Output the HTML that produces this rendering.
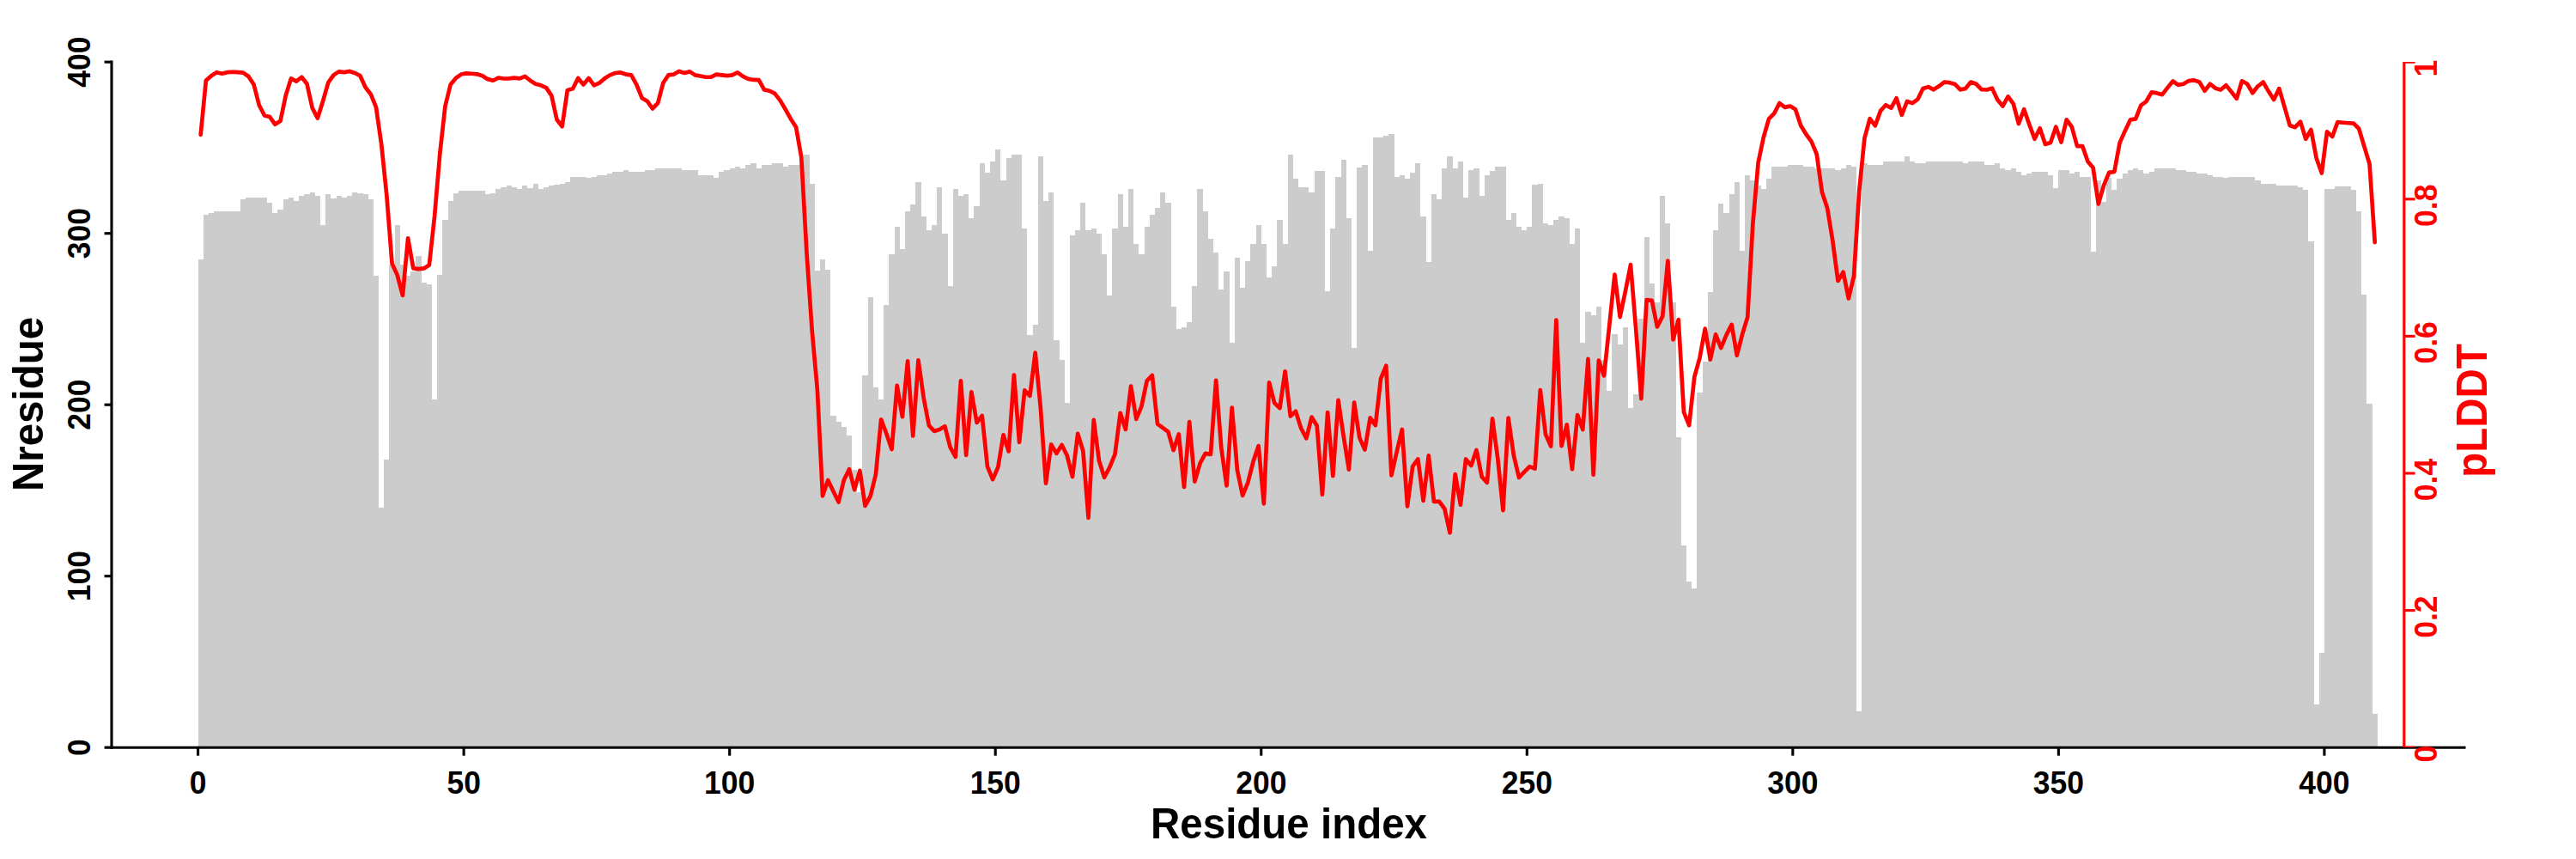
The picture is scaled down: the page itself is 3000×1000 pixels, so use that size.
<!DOCTYPE html>
<html><head><meta charset="utf-8"><title>Residue plot</title>
<style>html,body{margin:0;padding:0;background:#fff;overflow:hidden}body{width:3000px;height:1000px}</style></head>
<body>
<svg width="3000" height="1000" viewBox="0 0 3000 1000" style="display:block;font-family:'Liberation Sans',Arial,Helvetica,sans-serif;font-weight:bold">
<rect width="3000" height="1000" fill="#ffffff"/>
<path d="M230.60,870.20 L230.60,302.02 L236.79,302.02 L236.79,249.95 L242.98,249.95 L242.98,248.16 L249.17,248.16 L249.17,245.76 L255.36,245.76 L255.36,245.76 L261.55,245.76 L261.55,245.76 L267.74,245.76 L267.74,245.76 L273.94,245.76 L273.94,245.76 L280.13,245.76 L280.13,231.80 L286.32,231.80 L286.32,229.81 L292.51,229.81 L292.51,229.81 L298.70,229.81 L298.70,229.81 L304.89,229.81 L304.89,229.81 L311.08,229.81 L311.08,235.79 L317.27,235.79 L317.27,247.56 L323.46,247.56 L323.46,243.77 L329.65,243.77 L329.65,231.80 L335.84,231.80 L335.84,229.81 L342.03,229.81 L342.03,233.60 L348.23,233.60 L348.23,228.01 L354.42,228.01 L354.42,226.01 L360.61,226.01 L360.61,223.82 L366.80,223.82 L366.80,227.61 L372.99,227.61 L372.99,261.92 L379.18,261.92 L379.18,225.82 L385.37,225.82 L385.37,231.40 L391.56,231.40 L391.56,228.01 L397.75,228.01 L397.75,230.20 L403.94,230.20 L403.94,228.01 L410.13,228.01 L410.13,223.82 L416.32,223.82 L416.32,225.42 L422.51,225.42 L422.51,225.82 L428.71,225.82 L428.71,231.80 L434.90,231.80 L434.90,321.18 L441.09,321.18 L441.09,591.10 L447.28,591.10 L447.28,535.24 L453.47,535.24 L453.47,308.01 L459.66,308.01 L459.66,261.73 L465.85,261.73 L465.85,307.61 L472.04,307.61 L472.04,320.98 L478.23,320.98 L478.23,315.79 L484.42,315.79 L484.42,297.63 L490.61,297.63 L490.61,329.16 L496.80,329.16 L496.80,331.15 L503.00,331.15 L503.00,464.82 L509.19,464.82 L509.19,320.38 L515.38,320.38 L515.38,255.74 L521.57,255.74 L521.57,233.79 L527.76,233.79 L527.76,225.22 L533.95,225.22 L533.95,222.02 L540.14,222.02 L540.14,222.02 L546.33,222.02 L546.33,222.02 L552.52,222.02 L552.52,222.02 L558.71,222.02 L558.71,222.02 L564.90,222.02 L564.90,225.82 L571.09,225.82 L571.09,225.22 L577.28,225.22 L577.28,219.63 L583.48,219.63 L583.48,217.84 L589.67,217.84 L589.67,215.84 L595.86,215.84 L595.86,217.84 L602.05,217.84 L602.05,219.63 L608.24,219.63 L608.24,215.84 L614.43,215.84 L614.43,219.03 L620.62,219.03 L620.62,214.04 L626.81,214.04 L626.81,219.63 L633.00,219.63 L633.00,217.84 L639.19,217.84 L639.19,215.84 L645.38,215.84 L645.38,215.44 L651.57,215.44 L651.57,213.85 L657.77,213.85 L657.77,212.25 L663.96,212.25 L663.96,205.67 L670.15,205.67 L670.15,205.87 L676.34,205.87 L676.34,205.67 L682.53,205.67 L682.53,207.46 L688.72,207.46 L688.72,205.67 L694.91,205.67 L694.91,204.27 L701.10,204.27 L701.10,204.27 L707.29,204.27 L707.29,201.88 L713.48,201.88 L713.48,200.08 L719.67,200.08 L719.67,200.08 L725.86,200.08 L725.86,198.28 L732.05,198.28 L732.05,200.08 L738.25,200.08 L738.25,200.08 L744.44,200.08 L744.44,200.08 L750.63,200.08 L750.63,198.28 L756.82,198.28 L756.82,198.28 L763.01,198.28 L763.01,195.89 L769.20,195.89 L769.20,195.89 L775.39,195.89 L775.39,195.89 L781.58,195.89 L781.58,195.89 L787.77,195.89 L787.77,195.89 L793.96,195.89 L793.96,197.69 L800.15,197.69 L800.15,197.69 L806.34,197.69 L806.34,197.69 L812.54,197.69 L812.54,204.27 L818.73,204.27 L818.73,204.27 L824.92,204.27 L824.92,204.27 L831.11,204.27 L831.11,207.46 L837.30,207.46 L837.30,200.08 L843.49,200.08 L843.49,198.28 L849.68,198.28 L849.68,195.89 L855.87,195.89 L855.87,194.09 L862.06,194.09 L862.06,195.89 L868.25,195.89 L868.25,191.70 L874.44,191.70 L874.44,189.90 L880.63,189.90 L880.63,195.89 L886.82,195.89 L886.82,191.70 L893.02,191.70 L893.02,191.70 L899.21,191.70 L899.21,189.90 L905.40,189.90 L905.40,189.90 L911.59,189.90 L911.59,193.70 L917.78,193.70 L917.78,191.50 L923.97,191.50 L923.97,191.50 L930.16,191.50 L930.16,191.50 L936.35,191.50 L936.35,179.93 L942.54,179.93 L942.54,214.04 L948.73,214.04 L948.73,315.19 L954.92,315.19 L954.92,301.62 L961.11,301.62 L961.11,313.60 L967.31,313.60 L967.31,483.77 L973.50,483.77 L973.50,490.75 L979.69,490.75 L979.69,497.33 L985.88,497.33 L985.88,507.11 L992.07,507.11 L992.07,547.21 L998.26,547.21 L998.26,572.75 L1004.45,572.75 L1004.45,437.29 L1010.64,437.29 L1010.64,345.51 L1016.83,345.51 L1016.83,451.25 L1023.02,451.25 L1023.02,465.02 L1029.21,465.02 L1029.21,355.49 L1035.40,355.49 L1035.40,295.64 L1041.59,295.64 L1041.59,263.52 L1047.79,263.52 L1047.79,289.65 L1053.98,289.65 L1053.98,245.76 L1060.17,245.76 L1060.17,237.78 L1066.36,237.78 L1066.36,211.65 L1072.55,211.65 L1072.55,251.75 L1078.74,251.75 L1078.74,267.91 L1084.93,267.91 L1084.93,261.73 L1091.12,261.73 L1091.12,217.64 L1097.31,217.64 L1097.31,271.70 L1103.50,271.70 L1103.50,333.35 L1109.69,333.35 L1109.69,219.83 L1115.88,219.83 L1115.88,227.61 L1122.08,227.61 L1122.08,225.62 L1128.27,225.62 L1128.27,253.55 L1134.46,253.55 L1134.46,239.58 L1140.65,239.58 L1140.65,189.71 L1146.84,189.71 L1146.84,201.48 L1153.03,201.48 L1153.03,187.91 L1159.22,187.91 L1159.22,173.95 L1165.41,173.95 L1165.41,209.86 L1171.60,209.86 L1171.60,183.72 L1177.79,183.72 L1177.79,179.93 L1183.98,179.93 L1183.98,179.93 L1190.17,179.93 L1190.17,265.72 L1196.36,265.72 L1196.36,389.60 L1202.56,389.60 L1202.56,377.63 L1208.75,377.63 L1208.75,181.92 L1214.94,181.92 L1214.94,233.99 L1221.13,233.99 L1221.13,223.82 L1227.32,223.82 L1227.32,395.59 L1233.51,395.59 L1233.51,419.33 L1239.70,419.33 L1239.70,468.81 L1245.89,468.81 L1245.89,273.50 L1252.08,273.50 L1252.08,267.51 L1258.27,267.51 L1258.27,235.79 L1264.46,235.79 L1264.46,267.51 L1270.65,267.51 L1270.65,265.72 L1276.85,265.72 L1276.85,271.70 L1283.04,271.70 L1283.04,295.64 L1289.23,295.64 L1289.23,343.52 L1295.42,343.52 L1295.42,265.72 L1301.61,265.72 L1301.61,225.62 L1307.80,225.62 L1307.80,263.52 L1313.99,263.52 L1313.99,219.83 L1320.18,219.83 L1320.18,283.67 L1326.37,283.67 L1326.37,295.64 L1332.56,295.64 L1332.56,263.52 L1338.75,263.52 L1338.75,249.75 L1344.94,249.75 L1344.94,241.77 L1351.13,241.77 L1351.13,223.82 L1357.33,223.82 L1357.33,235.79 L1363.52,235.79 L1363.52,357.49 L1369.71,357.49 L1369.71,383.22 L1375.90,383.22 L1375.90,381.43 L1382.09,381.43 L1382.09,375.44 L1388.28,375.44 L1388.28,333.35 L1394.47,333.35 L1394.47,219.83 L1400.66,219.83 L1400.66,245.76 L1406.85,245.76 L1406.85,277.88 L1413.04,277.88 L1413.04,293.64 L1419.23,293.64 L1419.23,336.94 L1425.42,336.94 L1425.42,315.99 L1431.62,315.99 L1431.62,398.98 L1437.81,398.98 L1437.81,299.63 L1444.00,299.63 L1444.00,335.14 L1450.19,335.14 L1450.19,303.62 L1456.38,303.62 L1456.38,283.67 L1462.57,283.67 L1462.57,261.73 L1468.76,261.73 L1468.76,283.67 L1474.95,283.67 L1474.95,322.97 L1481.14,322.97 L1481.14,309.61 L1487.33,309.61 L1487.33,255.94 L1493.52,255.94 L1493.52,283.67 L1499.71,283.67 L1499.71,179.53 L1505.90,179.53 L1505.90,207.66 L1512.10,207.66 L1512.10,217.64 L1518.29,217.64 L1518.29,217.64 L1524.48,217.64 L1524.48,223.82 L1530.67,223.82 L1530.67,199.48 L1536.86,199.48 L1536.86,199.48 L1543.05,199.48 L1543.05,338.93 L1549.24,338.93 L1549.24,265.72 L1555.43,265.72 L1555.43,205.67 L1561.62,205.67 L1561.62,185.52 L1567.81,185.52 L1567.81,253.55 L1574.00,253.55 L1574.00,404.57 L1580.19,404.57 L1580.19,195.49 L1586.39,195.49 L1586.39,191.50 L1592.58,191.50 L1592.58,291.85 L1598.77,291.85 L1598.77,159.58 L1604.96,159.58 L1604.96,159.58 L1611.15,159.58 L1611.15,157.59 L1617.34,157.59 L1617.34,155.79 L1623.53,155.79 L1623.53,205.67 L1629.72,205.67 L1629.72,203.87 L1635.91,203.87 L1635.91,207.66 L1642.10,207.66 L1642.10,201.48 L1648.29,201.48 L1648.29,189.71 L1654.48,189.71 L1654.48,251.75 L1660.67,251.75 L1660.67,305.42 L1666.87,305.42 L1666.87,225.62 L1673.06,225.62 L1673.06,231.60 L1679.25,231.60 L1679.25,195.89 L1685.44,195.89 L1685.44,181.92 L1691.63,181.92 L1691.63,195.89 L1697.82,195.89 L1697.82,187.91 L1704.01,187.91 L1704.01,229.81 L1710.20,229.81 L1710.20,197.69 L1716.39,197.69 L1716.39,195.89 L1722.58,195.89 L1722.58,227.61 L1728.77,227.61 L1728.77,203.67 L1734.96,203.67 L1734.96,199.48 L1741.16,199.48 L1741.16,193.70 L1747.35,193.70 L1747.35,193.70 L1753.54,193.70 L1753.54,255.54 L1759.73,255.54 L1759.73,247.56 L1765.92,247.56 L1765.92,263.52 L1772.11,263.52 L1772.11,267.51 L1778.30,267.51 L1778.30,263.52 L1784.49,263.52 L1784.49,215.44 L1790.68,215.44 L1790.68,213.65 L1796.87,213.65 L1796.87,259.73 L1803.06,259.73 L1803.06,261.73 L1809.25,261.73 L1809.25,255.54 L1815.44,255.54 L1815.44,251.75 L1821.64,251.75 L1821.64,253.55 L1827.83,253.55 L1827.83,283.67 L1834.02,283.67 L1834.02,265.72 L1840.21,265.72 L1840.21,399.38 L1846.40,399.38 L1846.40,363.47 L1852.59,363.47 L1852.59,367.46 L1858.78,367.46 L1858.78,357.49 L1864.97,357.49 L1864.97,419.33 L1871.16,419.33 L1871.16,454.64 L1877.35,454.64 L1877.35,389.41 L1883.54,389.41 L1883.54,400.98 L1889.73,400.98 L1889.73,381.43 L1895.93,381.43 L1895.93,475.19 L1902.12,475.19 L1902.12,459.43 L1908.31,459.43 L1908.31,371.45 L1914.50,371.45 L1914.50,275.69 L1920.69,275.69 L1920.69,329.56 L1926.88,329.56 L1926.88,351.50 L1933.07,351.50 L1933.07,227.61 L1939.26,227.61 L1939.26,259.53 L1945.45,259.53 L1945.45,351.50 L1951.64,351.50 L1951.64,508.71 L1957.83,508.71 L1957.83,635.19 L1964.02,635.19 L1964.02,677.08 L1970.21,677.08 L1970.21,684.67 L1976.41,684.67 L1976.41,457.04 L1982.60,457.04 L1982.60,421.33 L1988.79,421.33 L1988.79,339.53 L1994.98,339.53 L1994.98,267.51 L2001.17,267.51 L2001.17,237.39 L2007.36,237.39 L2007.36,247.56 L2013.55,247.56 L2013.55,225.62 L2019.74,225.62 L2019.74,211.65 L2025.93,211.65 L2025.93,291.65 L2032.12,291.65 L2032.12,203.67 L2038.31,203.67 L2038.31,210.05 L2044.50,210.05 L2044.50,216.04 L2050.70,216.04 L2050.70,219.63 L2056.89,219.63 L2056.89,208.06 L2063.08,208.06 L2063.08,194.09 L2069.27,194.09 L2069.27,194.09 L2075.46,194.09 L2075.46,194.09 L2081.65,194.09 L2081.65,192.10 L2087.84,192.10 L2087.84,192.10 L2094.03,192.10 L2094.03,192.10 L2100.22,192.10 L2100.22,194.09 L2106.41,194.09 L2106.41,194.09 L2112.60,194.09 L2112.60,195.89 L2118.79,195.89 L2118.79,195.89 L2124.98,195.89 L2124.98,195.89 L2131.18,195.89 L2131.18,195.89 L2137.37,195.89 L2137.37,197.69 L2143.56,197.69 L2143.56,195.89 L2149.75,195.89 L2149.75,192.10 L2155.94,192.10 L2155.94,194.09 L2162.13,194.09 L2162.13,827.71 L2168.32,827.71 L2168.32,190.10 L2174.51,190.10 L2174.51,191.70 L2180.70,191.70 L2180.70,191.70 L2186.89,191.70 L2186.89,191.70 L2193.08,191.70 L2193.08,187.91 L2199.27,187.91 L2199.27,187.91 L2205.47,187.91 L2205.47,187.91 L2211.66,187.91 L2211.66,187.91 L2217.85,187.91 L2217.85,181.92 L2224.04,181.92 L2224.04,187.91 L2230.23,187.91 L2230.23,189.90 L2236.42,189.90 L2236.42,189.90 L2242.61,189.90 L2242.61,187.91 L2248.80,187.91 L2248.80,187.91 L2254.99,187.91 L2254.99,187.91 L2261.18,187.91 L2261.18,187.91 L2267.37,187.91 L2267.37,187.91 L2273.56,187.91 L2273.56,187.91 L2279.75,187.91 L2279.75,187.91 L2285.95,187.91 L2285.95,189.90 L2292.14,189.90 L2292.14,187.91 L2298.33,187.91 L2298.33,187.91 L2304.52,187.91 L2304.52,187.91 L2310.71,187.91 L2310.71,191.70 L2316.90,191.70 L2316.90,191.70 L2323.09,191.70 L2323.09,189.90 L2329.28,189.90 L2329.28,195.89 L2335.47,195.89 L2335.47,197.69 L2341.66,197.69 L2341.66,195.89 L2347.85,195.89 L2347.85,199.68 L2354.04,199.68 L2354.04,203.87 L2360.24,203.87 L2360.24,201.88 L2366.43,201.88 L2366.43,199.68 L2372.62,199.68 L2372.62,199.68 L2378.81,199.68 L2378.81,199.68 L2385.00,199.68 L2385.00,203.87 L2391.19,203.87 L2391.19,219.43 L2397.38,219.43 L2397.38,197.69 L2403.57,197.69 L2403.57,197.69 L2409.76,197.69 L2409.76,201.88 L2415.95,201.88 L2415.95,199.68 L2422.14,199.68 L2422.14,205.67 L2428.33,205.67 L2428.33,205.67 L2434.52,205.67 L2434.52,293.25 L2440.72,293.25 L2440.72,210.05 L2446.91,210.05 L2446.91,235.19 L2453.10,235.19 L2453.10,207.46 L2459.29,207.46 L2459.29,221.23 L2465.48,221.23 L2465.48,208.06 L2471.67,208.06 L2471.67,201.88 L2477.86,201.88 L2477.86,197.69 L2484.05,197.69 L2484.05,195.89 L2490.24,195.89 L2490.24,197.69 L2496.43,197.69 L2496.43,201.88 L2502.62,201.88 L2502.62,199.68 L2508.81,199.68 L2508.81,195.89 L2515.01,195.89 L2515.01,195.89 L2521.20,195.89 L2521.20,195.89 L2527.39,195.89 L2527.39,195.89 L2533.58,195.89 L2533.58,197.69 L2539.77,197.69 L2539.77,197.69 L2545.96,197.69 L2545.96,199.68 L2552.15,199.68 L2552.15,199.68 L2558.34,199.68 L2558.34,201.88 L2564.53,201.88 L2564.53,201.88 L2570.72,201.88 L2570.72,203.87 L2576.91,203.87 L2576.91,205.67 L2583.10,205.67 L2583.10,205.67 L2589.29,205.67 L2589.29,207.46 L2595.49,207.46 L2595.49,205.67 L2601.68,205.67 L2601.68,205.67 L2607.87,205.67 L2607.87,205.67 L2614.06,205.67 L2614.06,205.67 L2620.25,205.67 L2620.25,205.67 L2626.44,205.67 L2626.44,210.05 L2632.63,210.05 L2632.63,214.04 L2638.82,214.04 L2638.82,214.04 L2645.01,214.04 L2645.01,214.04 L2651.20,214.04 L2651.20,215.64 L2657.39,215.64 L2657.39,215.84 L2663.58,215.84 L2663.58,215.84 L2669.78,215.84 L2669.78,215.84 L2675.97,215.84 L2675.97,217.84 L2682.16,217.84 L2682.16,221.43 L2688.35,221.43 L2688.35,281.28 L2694.54,281.28 L2694.54,820.33 L2700.73,820.33 L2700.73,760.48 L2706.92,760.48 L2706.92,219.63 L2713.11,219.63 L2713.11,219.63 L2719.30,219.63 L2719.30,217.44 L2725.49,217.44 L2725.49,217.44 L2731.68,217.44 L2731.68,217.44 L2737.87,217.44 L2737.87,221.43 L2744.06,221.43 L2744.06,245.76 L2750.26,245.76 L2750.26,343.12 L2756.45,343.12 L2756.45,469.60 L2762.64,469.60 L2762.64,830.50 L2768.83,830.50 L2768.83,870.20Z" fill="#cccccc" stroke="none" shape-rendering="crispEdges"/>
<g stroke="#000" stroke-width="3.125" fill="none" stroke-linecap="butt">
<path d="M130,70.4375 L130,871.7625"/>
<path d="M128.4375,870.2 L2871.5,870.2"/>
<path d="M121.6,870.20 L130,870.20"/>
<path d="M121.6,670.70 L130,670.70"/>
<path d="M121.6,471.20 L130,471.20"/>
<path d="M121.6,271.70 L130,271.70"/>
<path d="M121.6,72.20 L130,72.20"/>
<path d="M230.60,870.2 L230.60,879.7"/>
<path d="M540.14,870.2 L540.14,879.7"/>
<path d="M849.68,870.2 L849.68,879.7"/>
<path d="M1159.22,870.2 L1159.22,879.7"/>
<path d="M1468.76,870.2 L1468.76,879.7"/>
<path d="M1778.30,870.2 L1778.30,879.7"/>
<path d="M2087.84,870.2 L2087.84,879.7"/>
<path d="M2397.38,870.2 L2397.38,879.7"/>
<path d="M2706.92,870.2 L2706.92,879.7"/>
</g>
<clipPath id="c"><rect x="2700" y="72" width="300" height="798"/></clipPath>
<g stroke="#ff0000" stroke-width="3.125" fill="none" clip-path="url(#c)">
<path d="M2799.8,60 L2799.8,880"/>
<path d="M2799.8,870.20 L2812.6000000000004,870.20"/>
<path d="M2799.8,710.60 L2812.6000000000004,710.60"/>
<path d="M2799.8,551.00 L2812.6000000000004,551.00"/>
<path d="M2799.8,391.40 L2812.6000000000004,391.40"/>
<path d="M2799.8,231.80 L2812.6000000000004,231.80"/>
<path d="M2799.8,72.20 L2812.6000000000004,72.20"/>
</g>
<path d="M233.70,156.79 L239.89,93.75 L246.08,88.16 L252.27,84.17 L258.46,85.77 L264.65,84.17 L270.84,83.77 L277.03,84.17 L283.22,84.57 L289.41,88.96 L295.60,98.53 L301.79,122.47 L307.99,134.44 L314.18,136.04 L320.37,144.82 L326.56,140.83 L332.75,111.30 L338.94,91.35 L345.13,94.54 L351.32,89.76 L357.51,97.74 L363.70,125.67 L369.89,137.64 L376.08,117.69 L382.27,96.14 L388.47,87.36 L394.66,83.37 L400.85,84.17 L407.04,82.97 L413.23,84.97 L419.42,88.16 L425.61,101.73 L431.80,109.71 L437.99,124.87 L444.18,167.96 L450.37,227.81 L456.56,306.81 L462.75,320.38 L468.95,343.92 L475.14,277.29 L481.33,312.40 L487.52,313.20 L493.71,312.40 L499.90,308.41 L506.09,251.75 L512.28,179.13 L518.47,123.59 L524.66,98.53 L530.85,90.95 L537.04,86.56 L543.24,85.37 L549.43,85.77 L555.62,86.32 L561.81,88.16 L568.00,92.15 L574.19,93.75 L580.38,90.55 L586.57,91.51 L592.76,91.35 L598.95,90.55 L605.14,91.35 L611.33,88.96 L617.52,93.75 L623.72,97.74 L629.91,99.33 L636.10,102.12 L642.29,111.30 L648.48,139.23 L654.67,147.21 L660.86,104.92 L667.05,103.32 L673.24,90.95 L679.43,98.53 L685.62,90.95 L691.81,99.33 L698.01,96.54 L704.20,91.35 L710.39,87.36 L716.58,84.97 L722.77,84.41 L728.96,86.56 L735.15,87.36 L741.34,98.53 L747.53,113.94 L753.72,117.69 L759.91,126.46 L766.10,120.08 L772.30,96.54 L778.49,87.36 L784.68,86.56 L790.87,82.97 L797.06,84.97 L803.25,83.37 L809.44,87.36 L815.63,88.56 L821.82,89.76 L828.01,89.76 L834.20,86.56 L840.39,87.36 L846.58,88.16 L852.78,87.36 L858.97,84.41 L865.16,88.96 L871.35,91.91 L877.54,92.95 L883.73,93.19 L889.92,104.36 L896.11,105.72 L902.30,108.91 L908.49,116.89 L914.68,127.26 L920.87,138.43 L927.07,148.01 L933.26,183.12 L939.45,294.04 L945.64,384.22 L951.83,452.85 L958.02,577.33 L964.21,558.98 L970.40,571.75 L976.59,584.52 L982.78,558.98 L988.97,546.21 L995.16,570.15 L1001.35,547.81 L1007.55,588.91 L1013.74,577.33 L1019.93,552.20 L1026.12,488.28 L1032.31,504.72 L1038.50,523.07 L1044.69,448.86 L1050.88,485.17 L1057.07,420.37 L1063.26,507.51 L1069.45,419.33 L1075.64,462.82 L1081.84,495.38 L1088.03,501.92 L1094.22,499.93 L1100.41,496.34 L1106.60,520.68 L1112.79,531.85 L1118.98,443.27 L1125.17,529.85 L1131.36,456.28 L1137.55,491.95 L1143.74,483.97 L1149.93,543.02 L1156.12,558.18 L1162.32,543.82 L1168.51,506.31 L1174.70,525.46 L1180.89,436.49 L1187.08,514.77 L1193.27,454.44 L1199.46,460.83 L1205.65,410.55 L1211.84,474.71 L1218.03,562.57 L1224.22,517.48 L1230.41,527.86 L1236.61,517.96 L1242.80,530.57 L1248.99,554.99 L1255.18,504.88 L1261.37,524.99 L1267.56,602.87 L1273.75,488.76 L1279.94,536.24 L1286.13,555.79 L1292.32,543.82 L1298.51,528.82 L1304.70,480.78 L1310.89,499.93 L1317.09,449.65 L1323.28,487.96 L1329.47,472.80 L1335.66,443.27 L1341.85,436.89 L1348.04,493.54 L1354.23,498.01 L1360.42,502.72 L1366.61,524.11 L1372.80,505.51 L1378.99,566.96 L1385.18,491.15 L1391.38,560.58 L1397.57,539.43 L1403.76,527.86 L1409.95,528.82 L1416.14,442.87 L1422.33,521.71 L1428.52,565.36 L1434.71,474.63 L1440.90,547.01 L1447.09,576.86 L1453.28,561.77 L1459.47,537.59 L1465.66,519.08 L1471.86,586.35 L1478.05,445.42 L1484.24,469.05 L1490.43,475.19 L1496.62,432.34 L1502.81,484.53 L1509.00,478.86 L1515.19,498.49 L1521.38,510.30 L1527.57,485.56 L1533.76,495.70 L1539.95,575.74 L1546.14,480.22 L1552.34,554.03 L1558.53,465.85 L1564.72,507.83 L1570.91,546.61 L1577.10,468.65 L1583.29,509.66 L1589.48,523.63 L1595.67,486.36 L1601.86,495.14 L1608.05,440.88 L1614.24,425.79 L1620.43,553.39 L1626.63,526.10 L1632.82,500.01 L1639.01,589.46 L1645.20,542.86 L1651.39,534.48 L1657.58,582.92 L1663.77,530.25 L1669.96,583.88 L1676.15,583.88 L1682.34,592.26 L1688.53,620.19 L1694.72,552.20 L1700.91,587.63 L1707.11,534.48 L1713.30,541.90 L1719.49,523.87 L1725.68,554.99 L1731.87,561.85 L1738.06,487.32 L1744.25,533.60 L1750.44,594.09 L1756.63,486.60 L1762.82,529.85 L1769.01,555.95 L1775.20,549.40 L1781.40,543.18 L1787.59,545.65 L1793.78,454.12 L1799.97,505.59 L1806.16,519.56 L1812.35,372.65 L1818.54,519.08 L1824.73,494.34 L1830.92,546.21 L1837.11,483.17 L1843.30,500.01 L1849.49,417.81 L1855.68,552.60 L1861.88,419.65 L1868.07,437.36 L1874.26,378.63 L1880.45,319.58 L1886.64,369.06 L1892.83,339.53 L1899.02,308.09 L1905.21,383.42 L1911.40,464.18 L1917.59,349.11 L1923.78,349.90 L1929.97,380.47 L1936.17,368.42 L1942.36,303.54 L1948.55,395.39 L1954.74,372.09 L1960.93,479.58 L1967.12,495.14 L1973.31,438.80 L1979.50,416.54 L1985.69,382.62 L1991.88,418.53 L1998.07,389.41 L2004.26,404.97 L2010.45,390.12 L2016.65,377.83 L2022.84,413.74 L2029.03,389.41 L2035.22,369.06 L2041.41,259.73 L2047.60,189.51 L2053.79,159.98 L2059.98,138.43 L2066.17,132.05 L2072.36,120.08 L2078.55,124.87 L2084.74,123.59 L2090.94,127.26 L2097.13,145.94 L2103.32,156.23 L2109.51,164.53 L2115.70,179.45 L2121.89,223.42 L2128.08,242.17 L2134.27,280.08 L2140.46,326.92 L2146.65,316.71 L2152.84,347.43 L2159.03,321.34 L2165.22,222.22 L2171.42,160.78 L2177.61,138.11 L2183.80,146.41 L2189.99,129.10 L2196.18,122.23 L2202.37,125.83 L2208.56,114.25 L2214.75,133.81 L2220.94,118.01 L2227.13,120.08 L2233.32,115.69 L2239.51,103.08 L2245.71,101.17 L2251.90,104.36 L2258.09,100.29 L2264.28,95.58 L2270.47,96.14 L2276.66,97.98 L2282.85,104.36 L2289.04,103.08 L2295.23,95.58 L2301.42,97.74 L2307.61,104.12 L2313.80,104.52 L2319.99,102.68 L2326.19,116.09 L2332.38,123.59 L2338.57,112.42 L2344.76,120.88 L2350.95,144.02 L2357.14,127.26 L2363.33,144.98 L2369.52,161.74 L2375.71,149.29 L2381.90,167.96 L2388.09,166.04 L2394.28,147.77 L2400.48,165.49 L2406.67,139.39 L2412.86,147.77 L2419.05,170.11 L2425.24,170.11 L2431.43,187.91 L2437.62,195.33 L2443.81,237.39 L2450.00,215.84 L2456.19,200.92 L2462.38,199.88 L2468.57,166.36 L2474.76,152.40 L2480.96,139.39 L2487.15,138.43 L2493.34,122.63 L2499.53,118.01 L2505.72,107.31 L2511.91,108.43 L2518.10,110.11 L2524.29,102.12 L2530.48,94.54 L2536.67,98.93 L2542.86,97.74 L2549.05,94.07 L2555.25,93.35 L2561.44,95.58 L2567.63,105.72 L2573.82,97.74 L2580.01,102.68 L2586.20,104.52 L2592.39,99.33 L2598.58,106.75 L2604.77,114.81 L2610.96,94.30 L2617.15,97.74 L2623.34,108.27 L2629.53,100.29 L2635.73,95.58 L2641.92,106.35 L2648.11,116.09 L2654.30,103.08 L2660.49,124.47 L2666.68,145.94 L2672.87,148.17 L2679.06,141.63 L2685.25,161.74 L2691.44,150.96 L2697.63,184.08 L2703.82,201.48 L2710.02,153.36 L2716.21,159.02 L2722.40,142.18 L2728.59,142.74 L2734.78,143.22 L2740.97,143.62 L2747.16,149.77 L2753.35,170.35 L2759.54,190.78 L2765.73,282.07" fill="none" stroke="#ff0000" stroke-width="4.7" stroke-linejoin="round" stroke-linecap="round"/>
<text transform="translate(230.60,924.3) scale(1,1.05)" font-size="35.5" text-anchor="middle" fill="#000">0</text>
<text transform="translate(540.14,924.3) scale(1,1.05)" font-size="35.5" text-anchor="middle" fill="#000">50</text>
<text transform="translate(849.68,924.3) scale(1,1.05)" font-size="35.5" text-anchor="middle" fill="#000">100</text>
<text transform="translate(1159.22,924.3) scale(1,1.05)" font-size="35.5" text-anchor="middle" fill="#000">150</text>
<text transform="translate(1468.76,924.3) scale(1,1.05)" font-size="35.5" text-anchor="middle" fill="#000">200</text>
<text transform="translate(1778.30,924.3) scale(1,1.05)" font-size="35.5" text-anchor="middle" fill="#000">250</text>
<text transform="translate(2087.84,924.3) scale(1,1.05)" font-size="35.5" text-anchor="middle" fill="#000">300</text>
<text transform="translate(2397.38,924.3) scale(1,1.05)" font-size="35.5" text-anchor="middle" fill="#000">350</text>
<text transform="translate(2706.92,924.3) scale(1,1.05)" font-size="35.5" text-anchor="middle" fill="#000">400</text>
<text transform="translate(105.3,870.20) rotate(-90) scale(1,1.05)" font-size="35.5" text-anchor="middle" fill="#000">0</text>
<text transform="translate(105.3,670.70) rotate(-90) scale(1,1.05)" font-size="35.5" text-anchor="middle" fill="#000">100</text>
<text transform="translate(105.3,471.20) rotate(-90) scale(1,1.05)" font-size="35.5" text-anchor="middle" fill="#000">200</text>
<text transform="translate(105.3,271.70) rotate(-90) scale(1,1.05)" font-size="35.5" text-anchor="middle" fill="#000">300</text>
<text transform="translate(105.3,72.20) rotate(-90) scale(1,1.05)" font-size="35.5" text-anchor="middle" fill="#000">400</text>
<text transform="translate(2838,877.70) rotate(-90) scale(1,1.05)" font-size="35.5" text-anchor="middle" fill="#ff0000">0</text>
<text transform="translate(2838,718.10) rotate(-90) scale(1,1.05)" font-size="35.5" text-anchor="middle" fill="#ff0000">0.2</text>
<text transform="translate(2838,558.50) rotate(-90) scale(1,1.05)" font-size="35.5" text-anchor="middle" fill="#ff0000">0.4</text>
<text transform="translate(2838,398.90) rotate(-90) scale(1,1.05)" font-size="35.5" text-anchor="middle" fill="#ff0000">0.6</text>
<text transform="translate(2838,239.30) rotate(-90) scale(1,1.05)" font-size="35.5" text-anchor="middle" fill="#ff0000">0.8</text>
<text transform="translate(2838,79.70) rotate(-90) scale(1,1.05)" font-size="35.5" text-anchor="middle" fill="#ff0000">1</text>
<text transform="translate(1501,976.2) scale(1,1.05)" font-size="47.5" text-anchor="middle" fill="#000">Residue index</text>
<text transform="translate(49.8,470.5) rotate(-90) scale(1,1.05)" font-size="47.5" text-anchor="middle" fill="#000">Nresidue</text>
<text transform="translate(2895.7,478) rotate(-90) scale(1,1.05)" font-size="47.5" text-anchor="middle" fill="#ff0000">pLDDT</text>
</svg>
</body></html>
